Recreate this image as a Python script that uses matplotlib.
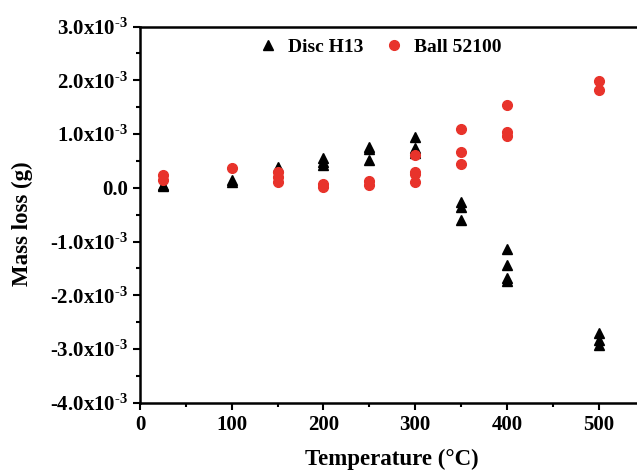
import numpy as np
import matplotlib.pyplot as plt
from matplotlib.ticker import MultipleLocator, FixedLocator

plt.rcParams['font.family'] = 'Liberation Serif'
plt.rcParams['font.weight'] = 'bold'
plt.rcParams['axes.labelweight'] = 'bold'
plt.rcParams['mathtext.fontset'] = 'custom'
plt.rcParams['mathtext.rm'] = 'Liberation Serif:bold'
plt.rcParams['mathtext.bf'] = 'Liberation Serif:bold'
plt.rcParams['mathtext.default'] = 'bf'

# Disc H13 mass loss (g) per temperature (C)
disc_temp = [25, 25, 100, 100, 150, 200, 200, 200, 250, 250, 250,
             300, 300, 300, 350, 350, 350, 400, 400, 400, 400, 500, 500, 500]
disc_loss = [0.05, 0.03, 0.15, 0.10, 0.38, 0.55, 0.48, 0.43, 0.76, 0.72, 0.52,
             0.95, 0.74, 0.65, -0.26, -0.36, -0.60, -1.14, -1.43, -1.68, -1.74,
             -2.70, -2.83, -2.92]

# Ball 52100 mass loss (g)
ball_temp = [25, 25, 100, 150, 150, 150, 200, 200, 250, 250,
             300, 300, 300, 300, 350, 350, 350, 400, 400, 400, 500, 500]
ball_loss = [0.23, 0.15, 0.36, 0.30, 0.20, 0.11, 0.08, 0.02, 0.12, 0.05,
             0.61, 0.30, 0.26, 0.10, 1.09, 0.67, 0.45, 1.54, 1.04, 0.97, 1.99, 1.82]

ytick_vals = [3, 2, 1, 0, -1, -2, -3, -4]
ytick_labels = ['0.0' if v == 0 else '%.1fx10$^{\\text{-3}}$' % v for v in ytick_vals]

fig = plt.figure(figsize=(6.37, 4.74), dpi=100)
ax = fig.add_axes([0.2198, 0.150, 0.792, 0.794])

ax.plot(disc_temp, np.array(disc_loss) * 1e-3, '^', color='black', markersize=7, label='Disc H13')
ax.plot(ball_temp, np.array(ball_loss) * 1e-3, 'o', color='#e8332b', markersize=7, label='Ball 52100')

ax.set_xlim(0, 550)
ax.set_ylim(-4e-3, 3e-3)
ax.xaxis.set_major_locator(FixedLocator([0, 100, 200, 300, 400, 500]))
ax.xaxis.set_minor_locator(MultipleLocator(50))
ax.set_yticks([v * 1e-3 for v in ytick_vals])
ax.set_yticklabels(ytick_labels)
ax.yaxis.set_minor_locator(MultipleLocator(0.5e-3))

ax.tick_params(which='major', direction='out', length=5, width=1.5, labelsize=15)
ax.tick_params(which='minor', direction='out', length=3, width=1.5)
for s in ax.spines.values():
    s.set_linewidth(1.8)

ax.set_xlabel('Temperature (°C)', fontsize=16.5, labelpad=10)
ax.set_ylabel('Mass loss (g)', fontsize=16.5)
ax.yaxis.set_label_coords(-0.212, 0.476)

ax.legend(loc='upper left', bbox_to_anchor=(0.2, 1.015), ncol=2, frameon=False,
          fontsize=14, handletextpad=0.5, columnspacing=1.1, handlelength=1.0)

fig.savefig('out.png', dpi=100)
